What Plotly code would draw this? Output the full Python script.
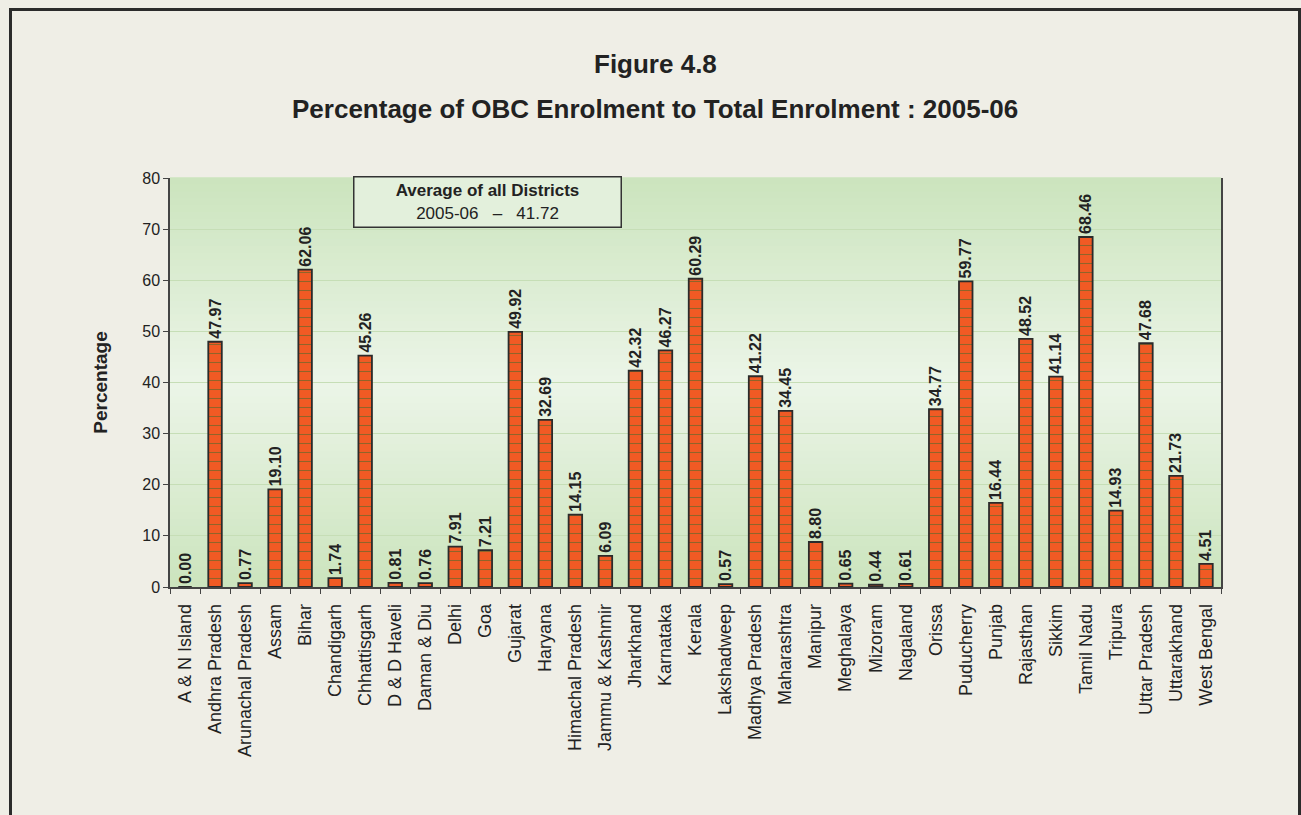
import plotly.graph_objects as go

# State-wise OBC enrolment share, 2005-06
states = [
    "A & N Island", "Andhra Pradesh", "Arunachal Pradesh", "Assam", "Bihar",
    "Chandigarh", "Chhattisgarh", "D & D Haveli", "Daman & Diu", "Delhi",
    "Goa", "Gujarat", "Haryana", "Himachal Pradesh", "Jammu & Kashmir",
    "Jharkhand", "Karnataka", "Kerala", "Lakshadweep", "Madhya Pradesh",
    "Maharashtra", "Manipur", "Meghalaya", "Mizoram", "Nagaland",
    "Orissa", "Puducherry", "Punjab", "Rajasthan", "Sikkim",
    "Tamil Nadu", "Tripura", "Uttar Pradesh", "Uttarakhand", "West Bengal",
]
obc_pct = [
    0.00, 47.97, 0.77, 19.10, 62.06,
    1.74, 45.26, 0.81, 0.76, 7.91,
    7.21, 49.92, 32.69, 14.15, 6.09,
    42.32, 46.27, 60.29, 0.57, 41.22,
    34.45, 8.80, 0.65, 0.44, 0.61,
    34.77, 59.77, 16.44, 48.52, 41.14,
    68.46, 14.93, 47.68, 21.73, 4.51,
]
avg_year = "2005-06"
avg_value = 41.72
y_ticks = [0, 10, 20, 30, 40, 50, 60, 70, 80]

W, H = 1301, 815
L, R, T, B = 170, 80, 178, 228
pw, ph = W - L - R, H - T - B


def px_x(px):
    return (px - L) / pw


def px_y(py):
    return (H - B - py) / ph


FONT = "Liberation Sans, Arial, sans-serif"
INK = "#222222"

fig = go.Figure()

fig.add_trace(go.Bar(
    x=states,
    y=obc_pct,
    marker=dict(
        color="#F15A24",
        line=dict(color="#2b2b2b", width=1.8),
        pattern=dict(shape="-", fgcolor="#4f6a2c", fgopacity=0.6,
                     size=9, solidity=0.12),
    ),
    texttemplate="%{y:.2f}\u00a0\u00a0",
    textposition="outside",
    textangle=-90,
    constraintext="none",
    textfont=dict(family=FONT, size=16, color=INK, weight="bold"),
    cliponaxis=False,
    hoverinfo="x+y",
))

# Vertical green gradient behind the bars
shapes = []
top_c = (203, 228, 189)
mid_c = (236, 245, 232)
n = 60
for i in range(n):
    t = (i + 0.5) / n
    k = 1 - abs(t - 0.5) * 2
    c = tuple(int(round(a + (b - a) * k)) for a, b in zip(top_c, mid_c))
    shapes.append(dict(
        type="rect", xref="paper", yref="paper",
        x0=0, x1=1, y0=i / n, y1=(i + 1) / n + 0.002,
        fillcolor="rgb(%d,%d,%d)" % c, line=dict(width=0), layer="below",
    ))

# Outer frame of the figure
shapes.append(dict(
    type="path", xref="paper", yref="paper",
    path="M %f %f L %f %f L %f %f L %f %f" % (
        px_x(10.5), px_y(830), px_x(10.5), px_y(9.5),
        px_x(1299.5), px_y(9.5), px_x(1299.5), px_y(830)),
    line=dict(color="#2b2b2b", width=3), layer="above",
))

annotations = [
    dict(text="<b>Figure 4.8</b>", xref="paper", yref="paper",
         x=px_x(655), y=px_y(64), xanchor="center", yanchor="middle",
         showarrow=False, font=dict(family=FONT, size=26, color=INK)),
    dict(text="<b>Percentage of OBC Enrolment to Total Enrolment : 2005-06</b>",
         xref="paper", yref="paper", x=px_x(655), y=px_y(109),
         xanchor="center", yanchor="middle", showarrow=False,
         font=dict(family=FONT, size=26, color=INK)),
    dict(text="<b>Average of all Districts</b><br>%s   \u2013   %.2f" % (avg_year, avg_value),
         xref="paper", yref="paper", x=px_x(487), y=px_y(202),
         xanchor="center", yanchor="middle", showarrow=False,
         width=266, height=49, align="center",
         bgcolor="#E3F0DC", bordercolor="#333333", borderwidth=1.5, borderpad=0,
         font=dict(family=FONT, size=17, color=INK)),
]

fig.update_layout(
    width=W, height=H,
    margin=dict(l=L, r=R, t=T, b=B),
    paper_bgcolor="#EFEEE6",
    plot_bgcolor="rgba(0,0,0,0)",
    showlegend=False,
    bargap=0.55,
    shapes=shapes,
    annotations=annotations,
    font=dict(family=FONT, color=INK),
)

fig.update_xaxes(
    tickangle=-90,
    tickfont=dict(family=FONT, size=18, color=INK),
    showline=True, linecolor="#444444", linewidth=1.5,
    ticks="outside", ticklen=5, tickcolor="#444444", tickson="boundaries",
    ticklabelstandoff=8,
    showgrid=False,
)
fig.update_yaxes(
    range=[0, 80],
    tickvals=y_ticks,
    tickfont=dict(family=FONT, size=16, color=INK),
    showline=True, linecolor="#444444", linewidth=1.5, mirror=True,
    ticks="outside", ticklen=5, tickcolor="#444444",
    showgrid=True, gridcolor="#C6DEB6", gridwidth=1.2,
    zeroline=False,
    title=dict(text="<b>Percentage</b>", font=dict(family=FONT, size=19, color=INK),
               standoff=30),
)

fig.write_html("out.html")
